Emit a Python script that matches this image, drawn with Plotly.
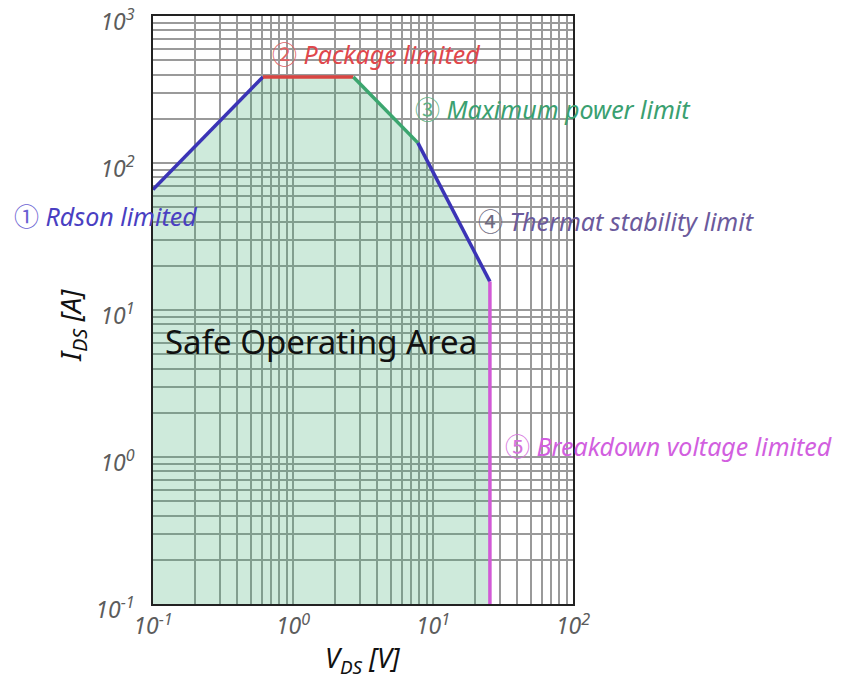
import plotly.graph_objects as go

# ---- data ----
rdson_v = [0.1, 0.61]
rdson_i = [66, 385]
package_v = [0.61, 2.7]
package_i = [385, 385]
power_v = [2.7, 7.8]
power_i = [385, 137]
thermal_v = [7.8, 25.5]
thermal_i = [137, 15.6]
breakdown_v = [25.5, 25.5]
breakdown_i = [15.6, 0.1]

x_decades = [0.1, 1, 10, 100]
x_tick_text = ["10<sup>-1</sup>", "10<sup>0</sup>", "10<sup>1</sup>", "10<sup>2</sup>"]
y_decades = [0.1, 1, 10, 100, 1000]
y_tick_text = ["10<sup>-1</sup>", "10<sup>0</sup>", "10<sup>1</sup>", "10<sup>2</sup>", "10<sup>3</sup>"]

labels = ["① Rdson limited", "② Package limited", "③ Maximum power limit",
          "④ Thermat stability limit", "⑤ Breakdown voltage limited"]

# ---- build ----
def grid_vals(decades):
    vals = []
    for d in decades[:-1]:
        vals += [d * k for k in range(1, 10)]
    vals.append(decades[-1])
    return vals

def grid_text(decades, texts):
    out = []
    for d, t in zip(decades[:-1], texts[:-1]):
        out += [f"<i>{t}</i>"] + [""] * 8
    out.append(f"<i>{texts[-1]}</i>")
    return out

BLUE = "#3b34b6"
RED = "#d94542"
GREEN = "#3ca66f"
MAGENTA = "#d25ad6"

fill_v = [rdson_v[0]] + rdson_v + package_v[1:] + power_v[1:] + thermal_v[1:] + breakdown_v[1:] + [rdson_v[0]]
fill_i = [breakdown_i[-1]] + rdson_i + package_i[1:] + power_i[1:] + thermal_i[1:] + breakdown_i[1:] + [breakdown_i[-1]]

fig = go.Figure()
fig.add_trace(go.Scatter(x=fill_v, y=fill_i, mode="lines", fill="toself",
                         fillcolor="rgba(60,170,110,0.25)", line=dict(width=0),
                         hoverinfo="skip", showlegend=False))
for vx, iy, c in [(rdson_v, rdson_i, BLUE), (package_v, package_i, RED),
                  (power_v, power_i, GREEN), (thermal_v, thermal_i, BLUE),
                  (breakdown_v, breakdown_i, MAGENTA)]:
    fig.add_trace(go.Scatter(x=vx, y=iy, mode="lines", line=dict(color=c, width=3.5),
                             showlegend=False))

tickfont = dict(family="Noto Sans", size=23, color="#5c5c5c")
fig.update_xaxes(type="log", range=[-1, 2], tickvals=grid_vals(x_decades),
                 ticktext=grid_text(x_decades, x_tick_text),
                 showgrid=True, gridcolor="#9a9a9a", gridwidth=2,
                 ticks="outside", ticklen=1, tickcolor="rgba(0,0,0,0)",
                 showline=True, linecolor="#222", linewidth=1.5, mirror=True,
                 tickfont=tickfont, zeroline=False, ticklabeloverflow="allow",
                 automargin=False)
fig.update_yaxes(type="log", range=[-1, 3], tickvals=grid_vals(y_decades),
                 ticktext=grid_text(y_decades, y_tick_text),
                 showgrid=True, gridcolor="#9a9a9a", gridwidth=2,
                 ticks="outside", ticklen=12, tickcolor="rgba(0,0,0,0)",
                 showline=True, linecolor="#222", linewidth=1.5, mirror=True,
                 tickfont=tickfont, zeroline=False, ticklabeloverflow="allow",
                 ticklabelshift=6, automargin=False)

label_colors = [("#6a62d2", "#4a3fc2"), ("#de6263", "#e0474b"), ("#5fb285", "#3aa070"),
                ("#6e6a80", "#6b5a9c"), ("#d672dd", "#d25fdf")]
label_pos = [(-0.336, 0.662), (0.279, 0.937), (0.619, 0.8435), (0.769, 0.653), (0.833, 0.270)]
for text, (cc, tc), (px, py) in zip(labels, label_colors, label_pos):
    num, rest = text.split(" ", 1)
    fig.add_annotation(x=px, y=py, xref="paper", yref="paper", xanchor="left", yanchor="middle",
                       showarrow=False,
                       text=(f"<span style='color:{cc};font-family:Noto Sans CJK SC'>{num}</span>"
                             f" <i>{rest}</i>"),
                       font=dict(family="Noto Sans", size=25, color=tc))

fig.add_annotation(x=0.024, y=0.4456, xref="paper", yref="paper", xanchor="left", yanchor="middle",
                   showarrow=False, text="Safe Operating Area",
                   font=dict(family="Noto Sans", size=33, color="#111"))
fig.add_annotation(x=-0.193, y=0.4745, xref="paper", yref="paper", textangle=-90,
                   xanchor="center", yanchor="middle",
                   showarrow=False, text="<i>I<sub>DS</sub> [A]</i>",
                   font=dict(family="Noto Sans", size=28, color="#111"))
fig.add_annotation(x=0.5, y=-0.094, xref="paper", yref="paper",
                   xanchor="center", yanchor="middle",
                   showarrow=False, text="<i>V<sub>DS</sub> [V]</i>",
                   font=dict(family="Noto Sans", size=27, color="#111"))

# page body has an 8px margin: shrink the figure so the plot lands where the reference has it
fig.update_layout(width=834, height=673, paper_bgcolor="white", plot_bgcolor="white",
                  margin=dict(l=145, r=269, t=8, b=77, autoexpand=False), showlegend=False)

fig.write_html("out.html")
